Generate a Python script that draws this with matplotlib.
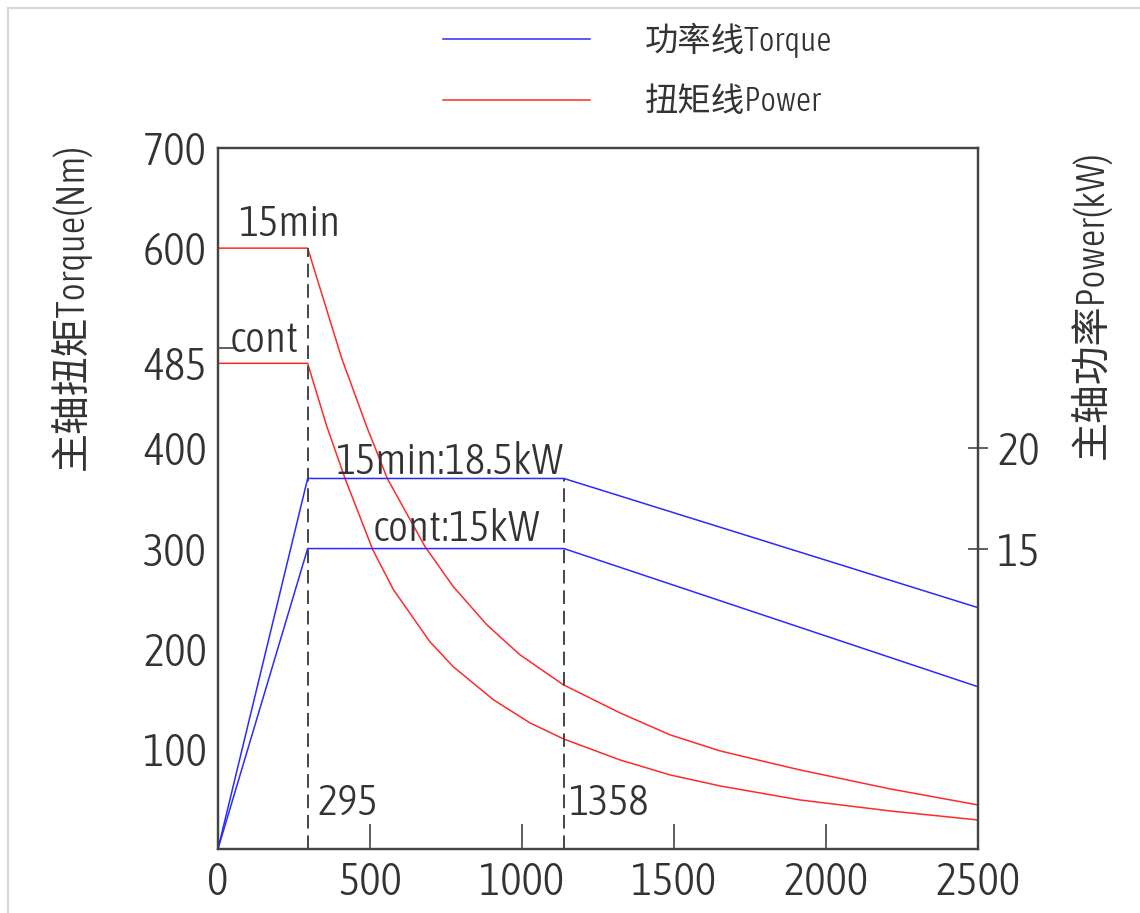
import dataclasses
import matplotlib
matplotlib.use("Agg")
import matplotlib.pyplot as plt
from matplotlib.font_manager import fontManager
from matplotlib.lines import Line2D

# speed axis (r/min)
speed_break = [0, 295, 1138, 2500]

# power lines (kW), blue
power_15min = [0, 18.5, 18.5, 12.05]
power_cont = [0, 15, 15, 8.1]

# torque lines (Nm), red
torque_15min_x = [0, 295, 407, 489, 557, 681, 774, 884, 993, 1136, 1322, 1487, 1651, 1816, 1914, 2211, 2500]
torque_15min_y = [600, 600, 490, 422, 370, 302, 262, 224, 194, 164, 136, 114, 98, 86, 79, 60, 44]
torque_cont_x = [0, 295, 358, 418, 509, 577, 621, 697, 774, 906, 1026, 1136, 1322, 1487, 1651, 1914, 2211, 2500]
torque_cont_y = [485, 485, 422, 370, 299, 259, 240, 207, 182, 149, 126, 110, 89, 74, 63, 49, 38, 29]

left_ticks = [100, 200, 300, 400, 485, 600, 700]
left_marks = [100, 200, 300, 400, 500]
x_ticks = [0, 500, 1000, 1500, 2000, 2500]
right_ticks = [15, 20]


# look for a narrow, light latin face - the reference uses a thin condensed CAD font
def pick_narrow():
    best, best_score = None, None
    for f in fontManager.ttflist:
        n = f.name
        low = f.fname.lower()
        if f.style != 'normal' or any(s in n for s in ('Mono', 'Serif', 'CJK', 'Math', 'Display')):
            continue
        if f.stretch != 'condensed' and 'narrow' not in low and 'condensed' not in low:
            continue
        w = f.weight if isinstance(f.weight, int) else {'ultralight': 200, 'light': 300, 'normal': 400,
                                                         'regular': 400, 'book': 400,
                                                         'medium': 500}.get(f.weight, 700)
        score = abs(w - 300) / 100
        if 'extra' in low or 'ultra' in low:
            score += 3
        if 'semi' in low:
            score += 1
        if 'italic' in low or 'oblique' in low:
            score += 10
        if best_score is None or score < best_score:
            best, best_score = f, score
    return best


narrow = pick_narrow()
if narrow is not None:
    fontManager.ttflist.append(dataclasses.replace(narrow, name='ChartNarrow', weight=400))
    latin, k = 'ChartNarrow', 1.0
else:
    latin, k = 'DejaVu Sans', 0.7
plt.rcParams['font.family'] = [latin, 'Noto Sans CJK SC', 'DejaVu Sans']

txt_col = '#333333'
spine_col = '#444444'

fig = plt.figure(figsize=(11.4, 9.13), dpi=100)
fig.subplots_adjust(left=0.1912, right=0.8579, bottom=0.0701, top=0.8379)
ax = fig.add_subplot(111)
ax2 = ax.twinx()

ax.set_xlim(0, 2500)
ax.set_ylim(0, 700)
ax2.set_ylim(0, 35)

l_red, = ax.plot(torque_15min_x, torque_15min_y, color='#ff2a2a', lw=1.1)
ax.plot(torque_cont_x, torque_cont_y, color='#ff2a2a', lw=1.1)
l_blue, = ax2.plot(speed_break, power_15min, color='#2a2aff', lw=1.1)
ax2.plot(speed_break, power_cont, color='#2a2aff', lw=1.1)

# dashed markers at the corner speeds
ax.plot([speed_break[1]] * 2, [0, torque_15min_y[1]], color='#444444', lw=1.4, ls=(0, (7, 3.5)))
ax.plot([speed_break[2]] * 2, [0, power_15min[2] * 20], color='#444444', lw=1.4, ls=(0, (7, 3.5)))

tick_fs = 32.5 * k
ax.set_xticks(x_ticks)
ax.set_xticklabels([str(v) for v in x_ticks])
ax.set_yticks(left_ticks)
ax.set_yticklabels([str(v) for v in left_ticks])
ax.set_yticks(left_marks, minor=True)
ax.tick_params(axis='y', which='major', length=0, pad=8, labelsize=tick_fs, colors=txt_col)
ax.tick_params(axis='y', which='minor', length=14, width=1.2, direction='in', color=spine_col)
ax.tick_params(axis='x', which='major', length=18, width=1.2, direction='in', pad=9,
               labelsize=tick_fs, labelcolor=txt_col, color=spine_col)

ax2.set_yticks(right_ticks)
ax2.set_yticklabels([str(v) for v in right_ticks])
ax2.tick_params(axis='y', length=14, width=1.2, direction='inout', pad=7,
                labelsize=tick_fs, labelcolor=txt_col, color=spine_col)

for a in (ax, ax2):
    for s in a.spines.values():
        s.set_color(spine_col)
        s.set_linewidth(1.6)

tk = dict(fontsize=31 * k, color=txt_col, va='baseline', ha='left')
ax.text(66, 612, '15min', **tk)
ax.text(39, 496, 'cont', **tk)
ax.text(385, 374, '15min:18.5kW', **tk)
ax.text(510, 308, 'cont:15kW', **tk)
ax.text(329, 34, '295', **tk)
ax.text(1151, 34, '1358', **tk)

lab_fs = 28 * k
fig.text(70 / 1140, 1 - 307 / 913, '主轴扭矩Torque(Nm)', rotation=90, ha='center', va='center',
         fontsize=lab_fs, color=txt_col)
fig.text(1090 / 1140, 1 - 305 / 913, '主轴功率Power(kW)', rotation=90, ha='center', va='center',
         fontsize=lab_fs, color=txt_col)

leg_fs = 24 * k
px = leg_fs * 100 / 72
fig.legend([l_blue, l_red], ['功率线Torque', '扭矩线Power'], loc='upper left',
           bbox_to_anchor=(443 / 1140, 1 - (38 - 0.465 * px) / 913), frameon=False, fontsize=leg_fs,
           handlelength=147 / px, handletextpad=55 / px, labelspacing=(60 - 0.97 * px) / px,
           borderpad=0, borderaxespad=0, labelcolor=txt_col)

# faint screenshot border
fig.add_artist(Line2D([8 / 1140, 1], [1 - 8 / 913, 1 - 8 / 913], transform=fig.transFigure,
                      color='#d6d6d6', lw=1.5))
fig.add_artist(Line2D([8 / 1140, 8 / 1140], [0, 1 - 8 / 913], transform=fig.transFigure,
                      color='#d6d6d6', lw=1.5))

fig.savefig('out.png', dpi=100)
